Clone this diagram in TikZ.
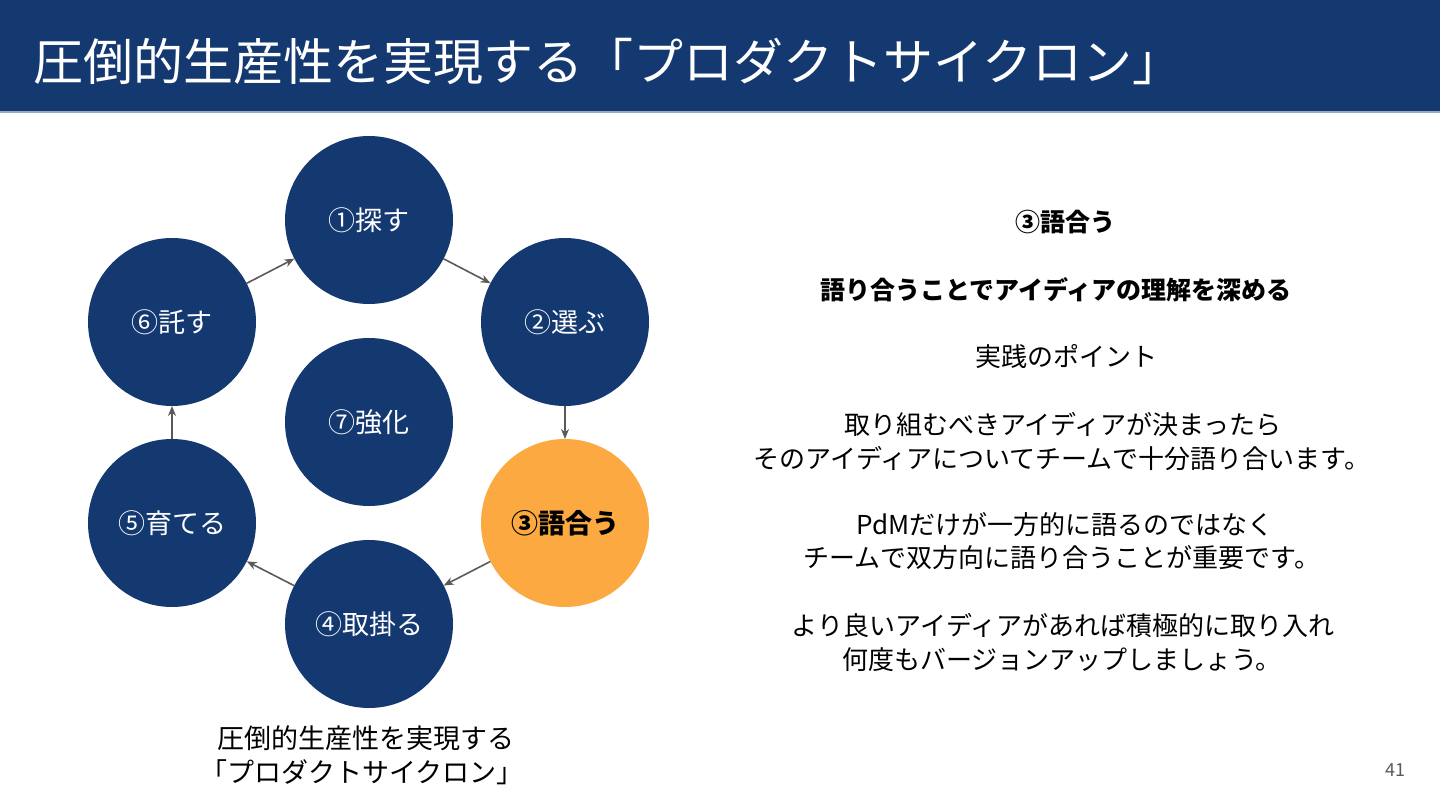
\documentclass[tikz,border=0pt]{standalone}
\usepackage{fontspec}
\setmainfont{Noto Sans CJK JP}
\usetikzlibrary{arrows.meta}
\definecolor{navy}{RGB}{20,56,112}
\definecolor{orng}{RGB}{251,169,64}
\definecolor{arrowgray}{RGB}{90,90,90}
\definecolor{lineblue}{RGB}{150,170,200}
\tikzset{
  circ/.style={circle, fill=navy, minimum size=168pt, inner sep=0pt, outer sep=0pt, text=white, font=\fontsize{27}{30}\selectfont},
  hot/.style={circ, fill=orng, text=black, font=\bfseries\fontsize{27}{30}\selectfont},
  flow/.style={draw=arrowgray, line width=1.6pt, -{Stealth[length=10pt,width=8pt]}},
  body/.style={text=black, inner sep=0pt, font=\fontsize{26}{30}\selectfont},
  bodyb/.style={body, font=\bfseries\fontsize{25}{30}\selectfont},
}
\begin{document}
\begin{tikzpicture}[x=1pt,y=-1pt]
\useasboundingbox (0,0) rectangle (1440,810);
\fill[white] (0,0) rectangle (1440,810);
% header
\fill[navy] (0,0) rectangle (1440,111);
\draw[lineblue, line width=1.5pt] (0,112) -- (1440,112);
\node[anchor=west, text=white, inner sep=0pt, font=\fontsize{50}{56}\selectfont] (title) at (33,62) {圧倒的生産性を実現する「プロダクトサイクロン」};
% cycle
\node[circ] (c1) at (369,220) {①探す};
\node[circ] (c2) at (565,322) {②選ぶ};
\node[hot]  (c3) at (565,523) {③語合う};
\node[circ] (c4) at (369,624) {④取掛る};
\node[circ] (c5) at (172,523) {⑤育てる};
\node[circ] (c6) at (172,322) {⑥託す};
\node[circ] (c7) at (369,422) {⑦強化};
\draw[flow] (c6) -- (c1);
\draw[flow] (c1) -- (c2);
\draw[flow] (c2) -- (c3);
\draw[flow] (c3) -- (c4);
\draw[flow] (c4) -- (c5);
\draw[flow] (c5) -- (c6);
% caption
\node[body, font=\fontsize{27}{30}\selectfont] (cap1) at (366,738) {圧倒的生産性を実現する};
\node[body, font=\fontsize{27}{30}\selectfont] (cap2) at (362,772) {「プロダクトサイクロン」};
% right text
\node[bodyb] (t1) at (1065,222) {③語合う};
\node[bodyb] (t2) at (1056,290) {語り合うことでアイディアの理解を深める};
\node[body] (t3) at (1066,357) {実践のポイント};
\node[body] (t4) at (1063,424) {取り組むべきアイディアが決まったら};
\node[body] (t5) at (1062,459) {そのアイディアについてチームで十分語り合います。};
\node[body] (t6) at (1065,525) {PdMだけが一方的に語るのではなく};
\node[body] (t7) at (1062,558) {チームで双方向に語り合うことが重要です。};
\node[body] (t8) at (1063,626) {より良いアイディアがあれば積極的に取り入れ};
\node[body] (t9) at (1062,660) {何度もバージョンアップしましょう。};
% page number
\node[text=arrowgray, inner sep=0pt, font=\fontsize{18}{20}\selectfont] (pg) at (1395,770) {41};
\end{tikzpicture}
\end{document}
